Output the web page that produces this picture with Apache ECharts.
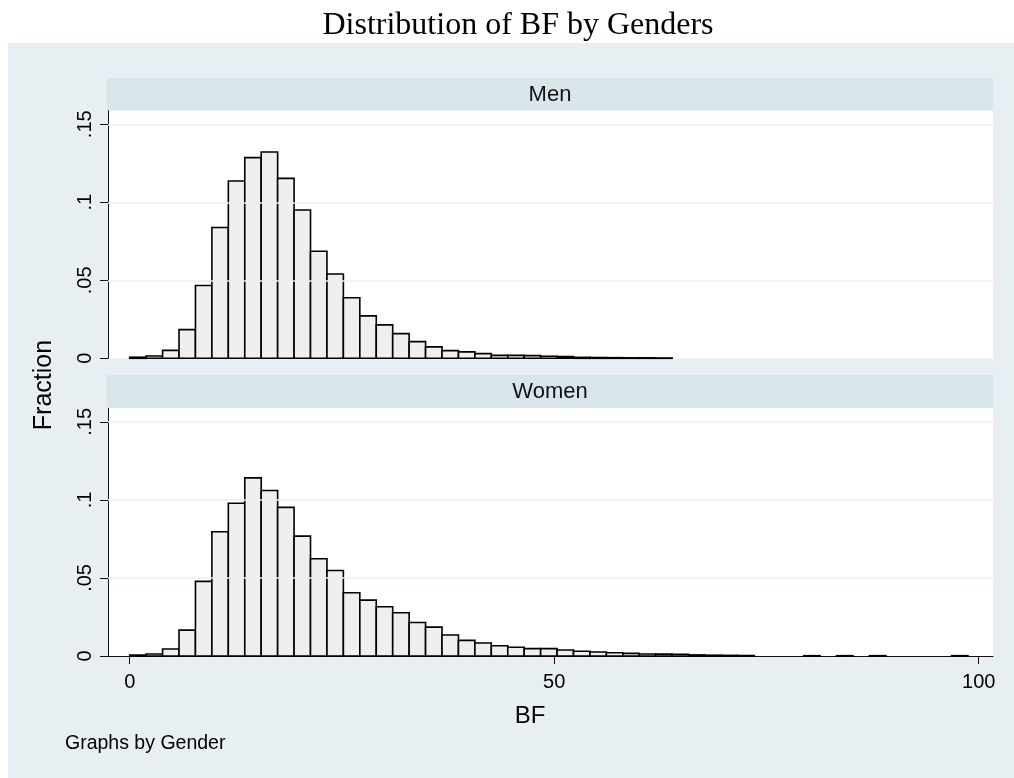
<!DOCTYPE html>
<html>
<head>
<meta charset="utf-8">
<title>Distribution of BF by Genders</title>
<script src="https://cdn.jsdelivr.net/npm/echarts@6/dist/echarts.min.js"></script>
<style>
  html, body { margin: 0; padding: 0; background: #ffffff; }
  #chart { width: 1014px; height: 778px; }
</style>
</head>
<body>
<div id="chart"></div>
<script>
// Histogram bins of body fat (BF): first edge and common width, in BF units
const binStart = 0;
const binWidth = 1.936;

// Fraction of observations per bin
const menFraction = [
  0.0007, 0.0015, 0.0051, 0.0184, 0.0467, 0.0838, 0.1136, 0.1286, 0.1322, 0.1153,
  0.0951, 0.0686, 0.0540, 0.0388, 0.0272, 0.0214, 0.0158, 0.0107, 0.0073, 0.0049,
  0.0041, 0.0030, 0.0019, 0.0019, 0.0017, 0.0013, 0.0011, 0.0006, 0.0005, 0.0004,
  0.0003, 0.0003, 0.0002
];
const womenFraction = [
  0.0006, 0.0013, 0.0045, 0.0166, 0.0478, 0.0796, 0.0979, 0.1141, 0.1060, 0.0952,
  0.0768, 0.0623, 0.0548, 0.0405, 0.0358, 0.0316, 0.0277, 0.0215, 0.0185, 0.0135,
  0.0100, 0.0083, 0.0066, 0.0056, 0.0047, 0.0047, 0.0038, 0.0030, 0.0026, 0.0021,
  0.0017, 0.0013, 0.0012, 0.0011, 0.0007, 0.0005, 0.0004, 0.0003, 0, 0,
  0, 0.0002, 0, 0.0002, 0, 0.0002, 0, 0, 0, 0,
  0.0002
];

// Panel labels and axis ticks
const panelLabels = ['Men', 'Women'];
const xTickValues = [0, 50, 100];
const yTickValues = [0, 0.05, 0.1, 0.15];
const yGridValues = [0.05, 0.1, 0.15];

const SANS = '"Liberation Sans", Arial, Helvetica, sans-serif';
const SERIF = '"Liberation Serif", "Times New Roman", serif';
const BG = '#E8EFF2';
const STRIP = '#D8E5EB';

function toBins(values) {
  return values.map((v, i) => [binStart + i * binWidth, binStart + (i + 1) * binWidth, v]);
}

function renderBin(params, api) {
  const v = api.value(2);
  if (!(v > 0)) return null;
  const p0 = api.coord([api.value(0), v]);
  const p1 = api.coord([api.value(1), 0]);
  return {
    type: 'rect',
    shape: { x: p0[0], y: p0[1], width: p1[0] - p0[0], height: p1[1] - p0[1] },
    style: { fill: '#EFEFEF', stroke: '#000000', lineWidth: 1.6 }
  };
}

function fmtY(v) {
  return v === 0 ? '0' : String(+v.toFixed(2)).replace(/^0/, '');
}

const X_MIN = -2.556, X_MAX = 101.68;
const Y_MAX = 0.1587;

const grids = [
  { left: 108, top: 110.7, width: 885, height: 247.6 },
  { left: 108, top: 408.3, width: 885, height: 247.7 }
].map(g => Object.assign(g, { show: true, backgroundColor: '#ffffff', borderWidth: 0, containLabel: false }));

function xAxisFor(idx, showAxis) {
  return {
    type: 'value', gridIndex: idx, min: X_MIN, max: X_MAX,
    axisLine: { show: showAxis, onZero: false, lineStyle: { color: '#111111', width: 1 } },
    axisTick: { show: showAxis, customValues: xTickValues, length: 8, inside: false,
                lineStyle: { color: '#111111', width: 1 } },
    axisLabel: { show: showAxis, customValues: xTickValues, margin: 16,
                 color: '#000000', fontFamily: SANS, fontSize: 20 },
    splitLine: { show: false }
  };
}

function yAxisFor(idx) {
  return {
    type: 'value', gridIndex: idx, min: 0, max: Y_MAX,
    axisLine: { show: true, onZero: false, lineStyle: { color: '#111111', width: 1 } },
    axisTick: { show: true, customValues: yTickValues, length: 8, inside: false,
                lineStyle: { color: '#111111', width: 1 } },
    axisLabel: { show: true, customValues: yTickValues, rotate: 90, margin: 13,
                 color: '#000000', fontFamily: SANS, fontSize: 20, formatter: fmtY },
    splitLine: { show: false }
  };
}

function gridLines(idx) {
  return {
    type: 'line', xAxisIndex: idx, yAxisIndex: idx, data: [], z: 1, silent: true,
    markLine: {
      silent: true, symbol: ['none', 'none'], label: { show: false },
      lineStyle: { type: 'solid', color: BG, width: 1.5 },
      data: yGridValues.map(v => ({ yAxis: v }))
    }
  };
}

function histogram(idx, values, name) {
  return {
    type: 'custom', name: name, xAxisIndex: idx, yAxisIndex: idx, z: 3,
    renderItem: renderBin, encode: { x: [0, 1], y: 2 },
    data: toBins(values)
  };
}

const chart = echarts.init(document.getElementById('chart'), null, { renderer: 'canvas' });
chart.setOption({
  backgroundColor: '#ffffff',
  animation: false,
  grid: grids,
  xAxis: [xAxisFor(0, false), xAxisFor(1, true)],
  yAxis: [yAxisFor(0), yAxisFor(1)],
  series: [
    gridLines(0), gridLines(1),
    histogram(0, menFraction, panelLabels[0]),
    histogram(1, womenFraction, panelLabels[1])
  ],
  graphic: [
    { type: 'rect', z: -10, shape: { x: 8, y: 43, width: 1006, height: 735 }, style: { fill: BG } },
    { type: 'rect', z: -9, shape: { x: 107, y: 78.3, width: 886, height: 32.4 }, style: { fill: STRIP } },
    { type: 'rect', z: -9, shape: { x: 107, y: 375, width: 886, height: 33.3 }, style: { fill: STRIP } },
    { type: 'text', x: 518, y: 26, style: { text: 'Distribution of BF by Genders', fontFamily: SERIF,
        fontSize: 32, fill: '#000000', textAlign: 'center', textVerticalAlign: 'middle' } },
    { type: 'text', x: 550, y: 94.5, style: { text: panelLabels[0], fontFamily: SANS,
        fontSize: 22, fill: '#111111', textAlign: 'center', textVerticalAlign: 'middle' } },
    { type: 'text', x: 550, y: 391.5, style: { text: panelLabels[1], fontFamily: SANS,
        fontSize: 22, fill: '#111111', textAlign: 'center', textVerticalAlign: 'middle' } },
    { type: 'text', x: 44, y: 385, rotation: Math.PI / 2, style: { text: 'Fraction', fontFamily: SANS,
        fontSize: 25, fill: '#000000', textAlign: 'center', textVerticalAlign: 'middle' } },
    { type: 'text', x: 530, y: 716.5, style: { text: 'BF', fontFamily: SANS,
        fontSize: 24, fill: '#000000', textAlign: 'center', textVerticalAlign: 'middle' } },
    { type: 'text', x: 65, y: 743.5, style: { text: 'Graphs by Gender', fontFamily: SANS,
        fontSize: 19.5, fill: '#000000', textAlign: 'left', textVerticalAlign: 'middle' } }
  ]
});
</script>
</body>
</html>
